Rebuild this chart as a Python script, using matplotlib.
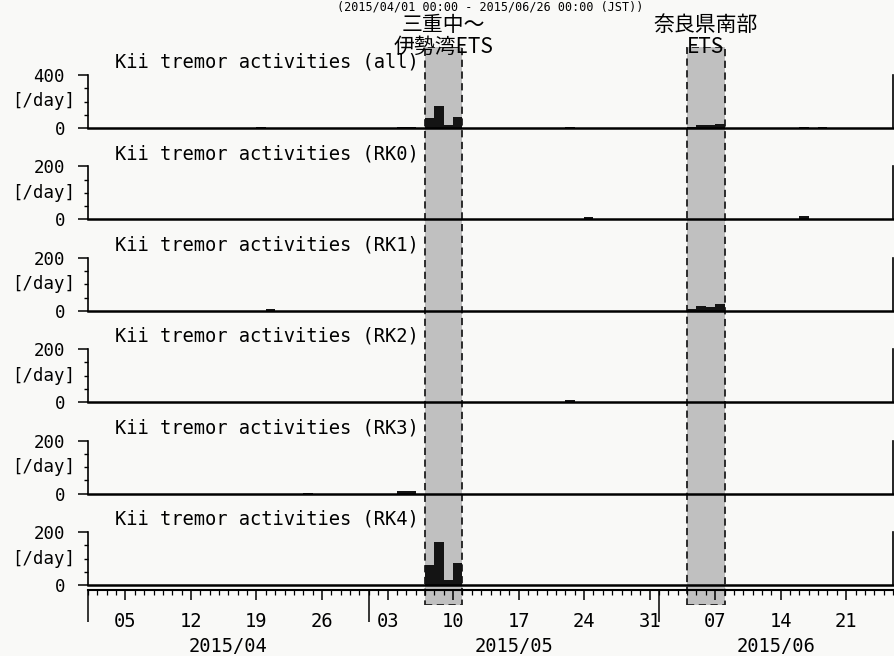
import numpy as np
import pandas as pd
import matplotlib
matplotlib.use("Agg")
import matplotlib.pyplot as plt
import matplotlib.dates as mdates
from matplotlib.ticker import FixedLocator, NullFormatter, FixedFormatter

plt.rcParams['font.family'] = ['DejaVu Sans Mono', 'Noto Sans CJK JP']

# time range of the plot
t_start = "2015-04-01"
t_end = "2015-06-26"
title = "(2015/04/01 00:00 - 2015/06/26 00:00 (JST))"

# ETS periods
ets_names = ["三重中～\n伊勢湾ETS", "奈良県南部\nETS"]
ets_start = ["2015-05-07", "2015-06-04"]
ets_end = ["2015-05-11", "2015-06-08"]

# daily tremor counts (only non-zero days)
panel_names = ["all", "RK0", "RK1", "RK2", "RK3", "RK4"]
panel_ymax = [400, 200, 200, 200, 200, 200]

all_days = ["2015-04-19", "2015-04-26", "2015-05-04", "2015-05-05",
            "2015-05-07", "2015-05-08", "2015-05-09", "2015-05-10",
            "2015-05-22", "2015-06-04", "2015-06-05", "2015-06-06",
            "2015-06-07", "2015-06-16", "2015-06-18"]
all_counts = [4, 3, 8, 7, 78, 166, 24, 85, 6, 10, 22, 20, 28, 10, 5]

rk0_days = ["2015-04-25", "2015-05-24", "2015-06-16"]
rk0_counts = [3, 8, 12]

rk1_days = ["2015-04-20", "2015-06-04", "2015-06-05", "2015-06-06", "2015-06-07"]
rk1_counts = [5, 6, 20, 16, 26]

rk2_days = ["2015-05-22"]
rk2_counts = [8]

rk3_days = ["2015-04-24", "2015-05-04", "2015-05-05"]
rk3_counts = [2, 8, 8]

rk4_days = ["2015-05-07", "2015-05-08", "2015-05-09", "2015-05-10"]
rk4_counts = [75, 162, 20, 83]

panel_days = [all_days, rk0_days, rk1_days, rk2_days, rk3_days, rk4_days]
panel_counts = [all_counts, rk0_counts, rk1_counts, rk2_counts, rk3_counts, rk4_counts]

W, H = 895, 656
fig = plt.figure(figsize=(W / 100, H / 100), dpi=100)
fig.patch.set_facecolor("#f9f9f7")

x0 = np.datetime64(t_start)
x1 = np.datetime64(t_end)
left = 88 / W
width = 805 / W

# shaded ETS periods behind all panels
ax_s = fig.add_axes([left, 1 - 605 / H, width, (605 - 47) / H], zorder=0)
ax_s.set_xlim(x0, x1)
ax_s.set_ylim(0, 1)
ax_s.axis("off")
for name, s, e in zip(ets_names, ets_start, ets_end):
    s = np.datetime64(s)
    e = np.datetime64(e)
    ax_s.axvspan(s, e, facecolor="#c0c0c0", edgecolor="#1e1e1e",
                 linestyle=(0, (4, 2.5)), linewidth=1.3)
    mid = s + (e - s) / 2
    ax_s.text(mid, 1 - 0.019, name, ha="center", va="bottom", fontsize=15,
              family=["Noto Sans CJK JP"], linespacing=0.95)

# panels
for i, (name, ymax, days, counts) in enumerate(zip(panel_names, panel_ymax,
                                                    panel_days, panel_counts)):
    base = 128 + i * 91.4
    ax = fig.add_axes([left, 1 - base / H, width, 53 / H], zorder=2)
    ax.patch.set_visible(False)
    ax.bar(pd.to_datetime(days), counts, width=1, align="edge",
           color="#141414", linewidth=0)
    ax.set_xlim(x0, x1)
    ax.set_ylim(0, ymax)
    ax.set_xticks([])
    ax.set_yticks([0, ymax])
    ax.set_yticks([ymax / 4, ymax / 2, ymax * 3 / 4], minor=True)
    ax.tick_params(axis="y", which="major", length=7.5, width=1.1, pad=9,
                   labelsize=12.5)
    ax.tick_params(axis="y", which="minor", length=3, width=1)
    ax.spines["top"].set_visible(False)
    ax.spines["bottom"].set_linewidth(1.8)
    ax.spines["left"].set_linewidth(1.2)
    ax.spines["right"].set_linewidth(1.2)
    ax.text(-0.016, 0.5, "[/day]", transform=ax.transAxes, ha="right",
            va="center", fontsize=12.5)
    ax.text(0.0335, 1.24, f"Kii tremor activities ({name})",
            transform=ax.transAxes, ha="left", va="center", fontsize=13.5)

# time axis
ax_t = fig.add_axes([left, 1 - 590 / H, width, 1e-4], zorder=3)
ax_t.patch.set_visible(False)
ax_t.set_xlim(x0, x1)
ax_t.set_yticks([])
for s in ["left", "right", "top"]:
    ax_t.spines[s].set_visible(False)
ax_t.spines["bottom"].set_linewidth(1.5)
ax_t.xaxis.set_major_locator(mdates.WeekdayLocator(byweekday=mdates.SU))
ax_t.xaxis.set_major_formatter(mdates.DateFormatter("%d"))
ax_t.xaxis.set_minor_locator(mdates.DayLocator())
ax_t.tick_params(which="major", length=7.5, width=1.1, pad=8, labelsize=13.5)
ax_t.tick_params(which="minor", length=3.5, width=0.9)

# month ticks and labels
month_starts = pd.date_range(t_start, t_end, freq="MS")
month_ends = [min(m + pd.offsets.MonthBegin(1), pd.Timestamp(t_end)) for m in month_starts]
month_mid = [m + (e - m) / 2 for m, e in zip(month_starts, month_ends)]

ax_m = fig.add_axes([left, 1 - 590 / H, width, 1e-4], zorder=3)
ax_m.patch.set_visible(False)
ax_m.set_xlim(x0, x1)
ax_m.set_yticks([])
for s in ax_m.spines.values():
    s.set_visible(False)
ax_m.xaxis.set_major_locator(FixedLocator(mdates.date2num(month_starts)))
ax_m.xaxis.set_major_formatter(NullFormatter())
ax_m.xaxis.set_minor_locator(FixedLocator(mdates.date2num(month_mid)))
ax_m.xaxis.set_minor_formatter(FixedFormatter([m.strftime("%Y/%m") for m in month_starts]))
ax_m.tick_params(which="major", length=23, width=1.1)
ax_m.tick_params(which="minor", length=0, pad=34, labelsize=13.5)

# title line (cut by the top edge in the original scan; kept fully visible here)
fig.text(left + width / 2, 1.0, title, ha="center", va="top", fontsize=8.5)

fig.savefig("out.png", dpi=100, facecolor=fig.get_facecolor())
